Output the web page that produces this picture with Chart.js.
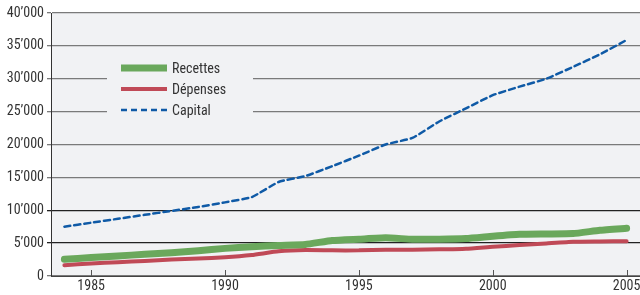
<!DOCTYPE html>
<html>
<head>
<meta charset="utf-8">
<script src="https://cdn.jsdelivr.net/npm/chart.js@4/dist/chart.umd.min.js"></script>
<style>
  html, body { margin: 0; padding: 0; background: #fff; }
  #wrap { width: 640px; height: 295px; position: relative; }
</style>
</head>
<body>
<div id="wrap"><canvas id="chart"></canvas></div>
<script>
const years = [1984, 1985, 1986, 1987, 1988, 1989, 1990, 1991, 1992, 1993, 1994,
  1995, 1996, 1997, 1998, 1999, 2000, 2001, 2002, 2003, 2004, 2005];
const recettes = [2550, 2800, 3050, 3300, 3550, 3850, 4200, 4450, 4650, 4800, 5400,
  5600, 5800, 5600, 5600, 5700, 6050, 6350, 6400, 6450, 6950, 7250];
const depenses = [1650, 1900, 2100, 2300, 2500, 2650, 2850, 3200, 3750, 3950, 3900,
  3900, 4000, 4000, 4050, 4150, 4450, 4700, 4950, 5200, 5250, 5300];
const capital = [7500, 8100, 8700, 9300, 9900, 10500, 11200, 12000, 14300, 15200, 16700,
  18300, 20000, 21000, 23500, 25500, 27500, 28800, 30000, 31800, 33700, 35900];
const yTicks = [0, 5000, 10000, 15000, 20000, 25000, 30000, 35000, 40000];

const FONT = "'Roboto Condensed', 'Open Sans', sans-serif";
const PLOT_BG = "#f1f2f4";

const fmt = v => v === 0 ? "0" : (v / 1000) + "\u2019000";

const bgPlugin = {
  id: "plotBg",
  beforeDraw(chart) {
    const { ctx, chartArea: a } = chart;
    ctx.save();
    ctx.fillStyle = PLOT_BG;
    ctx.fillRect(a.left, a.top, a.right - a.left, a.bottom - a.top);
    ctx.restore();
  },
  afterDraw(chart) {
    const { ctx, chartArea: a } = chart;
    const x = chart.scales.x;
    // small inward ticks on x axis at labelled years
    ctx.save();
    ctx.strokeStyle = "#555";
    ctx.lineWidth = 1;
    years.forEach((yr, i) => {
      if (yr % 5 === 0) {
        const px = Math.round(x.getPixelForValue(i)) + 0.5;
        ctx.beginPath();
        ctx.moveTo(px, a.bottom);
        ctx.lineTo(px, a.bottom - 6);
        ctx.stroke();
      }
    });
    ctx.restore();
  }
};

const legendPlugin = {
  id: "boxLegend",
  afterDatasetsDraw(chart) {
    const { ctx } = chart;
    ctx.save();
    ctx.fillStyle = PLOT_BG;
    ctx.fillRect(107, 52, 146, 72);
    chart.data.datasets.forEach((ds, i) => {
      const y = 68 + i * 21;
      ctx.strokeStyle = ds.borderColor;
      ctx.lineWidth = ds.legendWidth;
      ctx.setLineDash(ds.borderDash || []);
      ctx.beginPath();
      ctx.moveTo(121, y);
      ctx.lineTo(167, y);
      ctx.stroke();
      ctx.setLineDash([]);
      ctx.fillStyle = "#333";
      ctx.font = "14px " + FONT;
      ctx.textBaseline = "middle";
      ctx.fillText(ds.label, 172, y + 1);
    });
    ctx.restore();
  }
};

new Chart(document.getElementById("chart"), {
  type: "line",
  data: {
    labels: years,
    datasets: [
      { label: "Recettes", data: recettes, borderColor: "#6aa85c", borderWidth: 7, legendWidth: 7 },
      { label: "Dépenses", data: depenses, borderColor: "#c04a57", borderWidth: 4, legendWidth: 4 },
      { label: "Capital", data: capital, borderColor: "#0f5aa6", borderWidth: 2.5, legendWidth: 2.5, borderDash: [6, 4] }
    ]
  },
  options: {
    responsive: true,
    maintainAspectRatio: false,
    animation: false,
    layout: { padding: { top: 13, right: 0, left: 0, bottom: 0 } },
    elements: {
      point: { radius: 0 },
      line: { tension: 0.15, borderCapStyle: "round", borderJoinStyle: "round", fill: false }
    },
    plugins: { legend: { display: false }, tooltip: { enabled: false } },
    scales: {
      x: {
        type: "category",
        offset: true,
        grid: { display: false, drawTicks: false },
        border: { color: "#444", width: 1 },
        afterFit(s) { s.height = 19; s.paddingRight = 0; s.paddingLeft = 0; },
        ticks: {
          autoSkip: false,
          maxRotation: 0,
          padding: 2,
          color: "#333",
          font: { family: FONT, size: 14 },
          callback(v, i) { return years[i] % 5 === 0 ? String(years[i]) : ""; }
        }
      },
      y: {
        min: 0,
        max: 40000,
        afterFit(s) { s.width = 51; },
        afterBuildTicks(s) { s.ticks = yTicks.map(v => ({ value: v })); },
        border: { color: "#333", width: 1 },
        grid: {
          color: c => (c.tick && (c.tick.value === 5000 || c.tick.value === 10000)) ? "#222" : "#7a7a7a",
          lineWidth: 1.3,
          tickLength: 4
        },
        ticks: {
          padding: 3,
          color: "#333",
          font: { family: FONT, size: 14 },
          callback: v => fmt(v)
        }
      }
    }
  },
  plugins: [bgPlugin, legendPlugin]
});
</script>
</body>
</html>
